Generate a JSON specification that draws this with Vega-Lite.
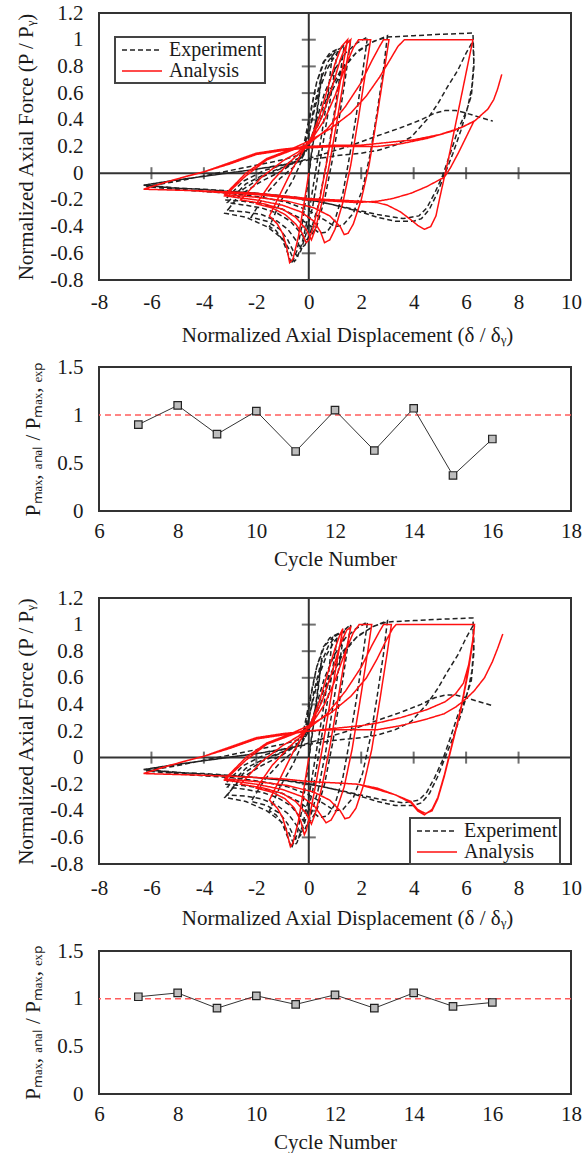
{
"$schema": "https://vega.github.io/schema/vega-lite/v6.json",
"padding": {"left": 14, "top": 1, "right": 0, "bottom": 0},
"config": {
  "font": "Liberation Serif",
  "view": {"stroke": "#333", "strokeWidth": 2},
  "axis": {"domain": false, "ticks": false, "grid": false, "labelFont": "Liberation Serif", "labelFontSize": 21, "labelColor": "#1a1a1a", "titleFont": "Liberation Serif", "titleFontSize": 21, "titleFontWeight": "normal", "titleColor": "#1a1a1a", "labelFlush": false, "labelOverlap": false},
  "legend": {"labelFont": "Liberation Serif", "labelFontSize": 20, "labelColor": "#1a1a1a", "symbolType": "M-2,0H2", "symbolSize": 400, "symbolStrokeWidth": 1.5, "symbolOffset": 14, "strokeColor": "#444", "strokeWidth": 2, "padding": 2, "rowPadding": 0, "labelOffset": 16, "fillColor": "white"}
},
"datasets": {
"exp": [
{"s":"Experiment","x":0,"y":0},{"s":"Experiment","x":0.2,"y":0.3},{"s":"Experiment","x":0.4,"y":0.6},{"s":"Experiment","x":0.5,"y":0.75},{"s":"Experiment","x":0.35,"y":0.5},{"s":"Experiment","x":0.15,"y":0.2},{"s":"Experiment","x":-0.05,"y":-0.1},{"s":"Experiment","x":-0.25,"y":-0.38},{"s":"Experiment","x":-0.45,"y":-0.58},{"s":"Experiment","x":-0.66,"y":-0.68},{"s":"Experiment","x":-0.8,"y":-0.6},{"s":"Experiment","x":-1.0,"y":-0.5},{"s":"Experiment","x":-1.25,"y":-0.43},{"s":"Experiment","x":-1.5,"y":-0.4},
{"s":"Experiment","x":-1.1,"y":-0.22},{"s":"Experiment","x":-0.6,"y":-0.05},{"s":"Experiment","x":-0.3,"y":0.08},{"s":"Experiment","x":-0.1,"y":0.25},{"s":"Experiment","x":0.1,"y":0.48},{"s":"Experiment","x":0.3,"y":0.68},{"s":"Experiment","x":0.55,"y":0.83},{"s":"Experiment","x":0.8,"y":0.9},{"s":"Experiment","x":1.1,"y":0.93},
{"s":"Experiment","x":0.9,"y":0.65},{"s":"Experiment","x":0.65,"y":0.35},{"s":"Experiment","x":0.4,"y":0.05},{"s":"Experiment","x":0.15,"y":-0.25},{"s":"Experiment","x":-0.1,"y":-0.45},{"s":"Experiment","x":-0.3,"y":-0.58},{"s":"Experiment","x":-0.45,"y":-0.62},
{"s":"Experiment","x":-0.6,"y":-0.58},{"s":"Experiment","x":-0.8,"y":-0.5},{"s":"Experiment","x":-1.1,"y":-0.42},{"s":"Experiment","x":-1.6,"y":-0.36},{"s":"Experiment","x":-2.2,"y":-0.33},
{"s":"Experiment","x":-1.7,"y":-0.17},{"s":"Experiment","x":-1.1,"y":-0.04},{"s":"Experiment","x":-0.5,"y":0.06},{"s":"Experiment","x":-0.2,"y":0.2},{"s":"Experiment","x":0.05,"y":0.45},{"s":"Experiment","x":0.3,"y":0.68},{"s":"Experiment","x":0.6,"y":0.84},{"s":"Experiment","x":0.9,"y":0.9},
{"s":"Experiment","x":0.75,"y":0.62},{"s":"Experiment","x":0.5,"y":0.3},{"s":"Experiment","x":0.25,"y":0.0},{"s":"Experiment","x":0.0,"y":-0.3},{"s":"Experiment","x":-0.25,"y":-0.52},{"s":"Experiment","x":-0.45,"y":-0.64},{"s":"Experiment","x":-0.55,"y":-0.66},
{"s":"Experiment","x":-0.75,"y":-0.57},{"s":"Experiment","x":-1.0,"y":-0.49},{"s":"Experiment","x":-1.6,"y":-0.4},{"s":"Experiment","x":-2.4,"y":-0.33},{"s":"Experiment","x":-3.2,"y":-0.3},
{"s":"Experiment","x":-2.6,"y":-0.16},{"s":"Experiment","x":-1.8,"y":-0.06},{"s":"Experiment","x":-1.0,"y":0.02},{"s":"Experiment","x":-0.4,"y":0.1},{"s":"Experiment","x":-0.2,"y":0.13},{"s":"Experiment","x":0.0,"y":0.28},{"s":"Experiment","x":0.2,"y":0.5},{"s":"Experiment","x":0.45,"y":0.7},{"s":"Experiment","x":0.75,"y":0.84},{"s":"Experiment","x":1.05,"y":0.92},{"s":"Experiment","x":1.35,"y":0.95},
{"s":"Experiment","x":1.15,"y":0.68},{"s":"Experiment","x":0.9,"y":0.36},{"s":"Experiment","x":0.65,"y":0.05},{"s":"Experiment","x":0.35,"y":-0.25},{"s":"Experiment","x":0.05,"y":-0.45},{"s":"Experiment","x":-0.15,"y":-0.54},{"s":"Experiment","x":-0.3,"y":-0.56},
{"s":"Experiment","x":-0.5,"y":-0.5},{"s":"Experiment","x":-0.8,"y":-0.42},{"s":"Experiment","x":-1.2,"y":-0.36},{"s":"Experiment","x":-1.8,"y":-0.31},{"s":"Experiment","x":-2.4,"y":-0.29},{"s":"Experiment","x":-3.1,"y":-0.28},
{"s":"Experiment","x":-2.5,"y":-0.12},{"s":"Experiment","x":-1.8,"y":-0.03},{"s":"Experiment","x":-1.0,"y":0.04},{"s":"Experiment","x":-0.4,"y":0.1},{"s":"Experiment","x":-0.1,"y":0.2},{"s":"Experiment","x":0.15,"y":0.42},{"s":"Experiment","x":0.4,"y":0.62},{"s":"Experiment","x":0.7,"y":0.78},{"s":"Experiment","x":1.0,"y":0.88},{"s":"Experiment","x":1.3,"y":0.95},{"s":"Experiment","x":1.6,"y":1.0},
{"s":"Experiment","x":1.4,"y":0.72},{"s":"Experiment","x":1.15,"y":0.4},{"s":"Experiment","x":0.9,"y":0.1},{"s":"Experiment","x":0.6,"y":-0.2},{"s":"Experiment","x":0.3,"y":-0.4},{"s":"Experiment","x":0.05,"y":-0.48},{"s":"Experiment","x":-0.1,"y":-0.5},
{"s":"Experiment","x":-0.35,"y":-0.44},{"s":"Experiment","x":-0.7,"y":-0.36},{"s":"Experiment","x":-1.2,"y":-0.3},{"s":"Experiment","x":-1.8,"y":-0.26},{"s":"Experiment","x":-2.4,"y":-0.24},{"s":"Experiment","x":-3.1,"y":-0.22},
{"s":"Experiment","x":-2.4,"y":-0.08},{"s":"Experiment","x":-1.6,"y":0.0},{"s":"Experiment","x":-0.9,"y":0.05},{"s":"Experiment","x":-0.3,"y":0.1},{"s":"Experiment","x":0.0,"y":0.2},{"s":"Experiment","x":0.3,"y":0.4},{"s":"Experiment","x":0.6,"y":0.6},{"s":"Experiment","x":1.0,"y":0.78},{"s":"Experiment","x":1.4,"y":0.9},{"s":"Experiment","x":1.8,"y":0.97},{"s":"Experiment","x":2.24,"y":1.02},
{"s":"Experiment","x":2.05,"y":0.75},{"s":"Experiment","x":1.8,"y":0.42},{"s":"Experiment","x":1.55,"y":0.12},{"s":"Experiment","x":1.3,"y":-0.15},{"s":"Experiment","x":1.0,"y":-0.35},{"s":"Experiment","x":0.7,"y":-0.44},{"s":"Experiment","x":0.4,"y":-0.45},
{"s":"Experiment","x":0.1,"y":-0.4},{"s":"Experiment","x":-0.4,"y":-0.33},{"s":"Experiment","x":-1.0,"y":-0.27},{"s":"Experiment","x":-1.8,"y":-0.23},{"s":"Experiment","x":-2.5,"y":-0.21},{"s":"Experiment","x":-3.2,"y":-0.2},
{"s":"Experiment","x":-2.5,"y":-0.06},{"s":"Experiment","x":-1.7,"y":0.02},{"s":"Experiment","x":-1.0,"y":0.06},{"s":"Experiment","x":-0.4,"y":0.11},{"s":"Experiment","x":0.0,"y":0.2},{"s":"Experiment","x":0.4,"y":0.38},{"s":"Experiment","x":0.8,"y":0.58},{"s":"Experiment","x":1.3,"y":0.78},{"s":"Experiment","x":1.8,"y":0.9},{"s":"Experiment","x":2.4,"y":0.98},{"s":"Experiment","x":3.0,"y":1.03},
{"s":"Experiment","x":2.85,"y":0.78},{"s":"Experiment","x":2.6,"y":0.45},{"s":"Experiment","x":2.35,"y":0.15},{"s":"Experiment","x":2.05,"y":-0.12},{"s":"Experiment","x":1.7,"y":-0.3},{"s":"Experiment","x":1.3,"y":-0.39},{"s":"Experiment","x":1.0,"y":-0.4},
{"s":"Experiment","x":0.6,"y":-0.35},{"s":"Experiment","x":0.0,"y":-0.28},{"s":"Experiment","x":-0.8,"y":-0.22},{"s":"Experiment","x":-1.8,"y":-0.18},{"s":"Experiment","x":-3.0,"y":-0.15},{"s":"Experiment","x":-4.5,"y":-0.13},{"s":"Experiment","x":-6.2,"y":-0.1},
{"s":"Experiment","x":-5.0,"y":-0.06},{"s":"Experiment","x":-4.0,"y":-0.02},{"s":"Experiment","x":-3.0,"y":0.02},{"s":"Experiment","x":-2.0,"y":0.06},{"s":"Experiment","x":-1.0,"y":0.1},{"s":"Experiment","x":-0.3,"y":0.14},{"s":"Experiment","x":0.0,"y":0.22},{"s":"Experiment","x":0.4,"y":0.42},{"s":"Experiment","x":0.8,"y":0.62},{"s":"Experiment","x":1.3,"y":0.8},{"s":"Experiment","x":1.9,"y":0.92},{"s":"Experiment","x":2.5,"y":0.99},{"s":"Experiment","x":3.0,"y":1.02},{"s":"Experiment","x":4.0,"y":1.03},{"s":"Experiment","x":5.0,"y":1.04},{"s":"Experiment","x":6.26,"y":1.05},
{"s":"Experiment","x":6.3,"y":0.85},{"s":"Experiment","x":6.22,"y":0.65},{"s":"Experiment","x":6.07,"y":0.5},{"s":"Experiment","x":5.8,"y":0.32},{"s":"Experiment","x":5.5,"y":0.15},{"s":"Experiment","x":5.2,"y":0.0},{"s":"Experiment","x":4.9,"y":-0.15},{"s":"Experiment","x":4.6,"y":-0.27},{"s":"Experiment","x":4.3,"y":-0.34},{"s":"Experiment","x":4.0,"y":-0.36},{"s":"Experiment","x":3.3,"y":-0.36},{"s":"Experiment","x":2.62,"y":-0.33},{"s":"Experiment","x":1.8,"y":-0.28},{"s":"Experiment","x":0.8,"y":-0.23},{"s":"Experiment","x":-0.5,"y":-0.18},{"s":"Experiment","x":-2.0,"y":-0.15},{"s":"Experiment","x":-3.5,"y":-0.13},{"s":"Experiment","x":-5.0,"y":-0.11},{"s":"Experiment","x":-6.3,"y":-0.09},
{"s":"Experiment","x":-5.0,"y":-0.05},{"s":"Experiment","x":-3.5,"y":-0.01},{"s":"Experiment","x":-2.0,"y":0.03},{"s":"Experiment","x":-1.0,"y":0.06},{"s":"Experiment","x":0.0,"y":0.1},{"s":"Experiment","x":1.0,"y":0.13},{"s":"Experiment","x":2.0,"y":0.15},{"s":"Experiment","x":2.62,"y":0.17},{"s":"Experiment","x":3.3,"y":0.21},{"s":"Experiment","x":3.9,"y":0.27},{"s":"Experiment","x":4.5,"y":0.4},{"s":"Experiment","x":4.92,"y":0.52},{"s":"Experiment","x":5.3,"y":0.65},{"s":"Experiment","x":5.68,"y":0.77},{"s":"Experiment","x":6.0,"y":0.9},{"s":"Experiment","x":6.26,"y":0.99},
{"s":"Experiment","x":6.3,"y":0.8},{"s":"Experiment","x":6.2,"y":0.58},{"s":"Experiment","x":6.0,"y":0.46},{"s":"Experiment","x":5.7,"y":0.33},{"s":"Experiment","x":5.4,"y":0.15},{"s":"Experiment","x":5.1,"y":-0.02},{"s":"Experiment","x":4.8,"y":-0.15},{"s":"Experiment","x":4.5,"y":-0.26},{"s":"Experiment","x":4.2,"y":-0.32},{"s":"Experiment","x":3.6,"y":-0.34},{"s":"Experiment","x":2.62,"y":-0.31},{"s":"Experiment","x":1.5,"y":-0.26},{"s":"Experiment","x":0.3,"y":-0.21},{"s":"Experiment","x":-1.0,"y":-0.17},{"s":"Experiment","x":-2.5,"y":-0.14},{"s":"Experiment","x":-4.0,"y":-0.12},{"s":"Experiment","x":-5.2,"y":-0.11},{"s":"Experiment","x":-6.3,"y":-0.09},
{"s":"Experiment","x":-5.0,"y":-0.05},{"s":"Experiment","x":-3.5,"y":-0.01},{"s":"Experiment","x":-2.0,"y":0.03},{"s":"Experiment","x":-0.5,"y":0.08},{"s":"Experiment","x":0.5,"y":0.14},{"s":"Experiment","x":1.5,"y":0.2},{"s":"Experiment","x":2.62,"y":0.28},{"s":"Experiment","x":3.5,"y":0.34},{"s":"Experiment","x":4.28,"y":0.4},{"s":"Experiment","x":4.8,"y":0.45},{"s":"Experiment","x":5.2,"y":0.47},{"s":"Experiment","x":5.6,"y":0.47},{"s":"Experiment","x":6.0,"y":0.45},{"s":"Experiment","x":6.5,"y":0.42},{"s":"Experiment","x":7.02,"y":0.39}
],
"ana1": [
{"s":"Analysis","x":0,"y":0},{"s":"Analysis","x":-0.2,"y":-0.25},{"s":"Analysis","x":-0.4,"y":-0.48},{"s":"Analysis","x":-0.6,"y":-0.64},{"s":"Analysis","x":-0.73,"y":-0.67},{"s":"Analysis","x":-0.85,"y":-0.55},{"s":"Analysis","x":-1.0,"y":-0.45},{"s":"Analysis","x":-1.2,"y":-0.38},{"s":"Analysis","x":-1.5,"y":-0.32},
{"s":"Analysis","x":-1.1,"y":-0.16},{"s":"Analysis","x":-0.6,"y":0.04},{"s":"Analysis","x":-0.2,"y":0.17},{"s":"Analysis","x":0.1,"y":0.27},{"s":"Analysis","x":0.4,"y":0.42},{"s":"Analysis","x":0.7,"y":0.62},{"s":"Analysis","x":1.0,"y":0.82},{"s":"Analysis","x":1.25,"y":0.95},{"s":"Analysis","x":1.48,"y":1.0},
{"s":"Analysis","x":1.3,"y":0.8},{"s":"Analysis","x":1.0,"y":0.45},{"s":"Analysis","x":0.7,"y":0.1},{"s":"Analysis","x":0.4,"y":-0.22},{"s":"Analysis","x":0.15,"y":-0.42},{"s":"Analysis","x":0.0,"y":-0.5},{"s":"Analysis","x":-0.1,"y":-0.52},
{"s":"Analysis","x":-0.25,"y":-0.45},{"s":"Analysis","x":-0.5,"y":-0.38},{"s":"Analysis","x":-0.9,"y":-0.31},{"s":"Analysis","x":-1.4,"y":-0.26},{"s":"Analysis","x":-2.0,"y":-0.23},
{"s":"Analysis","x":-1.4,"y":-0.06},{"s":"Analysis","x":-0.8,"y":0.07},{"s":"Analysis","x":-0.3,"y":0.16},{"s":"Analysis","x":0.1,"y":0.26},{"s":"Analysis","x":0.5,"y":0.42},{"s":"Analysis","x":0.9,"y":0.65},{"s":"Analysis","x":1.2,"y":0.85},{"s":"Analysis","x":1.45,"y":0.97},{"s":"Analysis","x":1.6,"y":1.0},
{"s":"Analysis","x":1.4,"y":0.78},{"s":"Analysis","x":1.1,"y":0.42},{"s":"Analysis","x":0.8,"y":0.08},{"s":"Analysis","x":0.5,"y":-0.22},{"s":"Analysis","x":0.25,"y":-0.42},{"s":"Analysis","x":0.1,"y":-0.5},
{"s":"Analysis","x":-0.1,"y":-0.42},{"s":"Analysis","x":-0.5,"y":-0.33},{"s":"Analysis","x":-1.0,"y":-0.27},{"s":"Analysis","x":-1.7,"y":-0.23},{"s":"Analysis","x":-2.6,"y":-0.2},
{"s":"Analysis","x":-1.8,"y":-0.03},{"s":"Analysis","x":-1.0,"y":0.09},{"s":"Analysis","x":-0.4,"y":0.16},{"s":"Analysis","x":0.1,"y":0.25},{"s":"Analysis","x":0.6,"y":0.4},{"s":"Analysis","x":1.0,"y":0.58},{"s":"Analysis","x":1.4,"y":0.8},{"s":"Analysis","x":1.7,"y":0.94},{"s":"Analysis","x":1.9,"y":1.0},{"s":"Analysis","x":2.36,"y":1.0},
{"s":"Analysis","x":2.2,"y":0.8},{"s":"Analysis","x":1.9,"y":0.42},{"s":"Analysis","x":1.6,"y":0.06},{"s":"Analysis","x":1.3,"y":-0.22},{"s":"Analysis","x":1.0,"y":-0.42},{"s":"Analysis","x":0.8,"y":-0.5},{"s":"Analysis","x":0.6,"y":-0.52},
{"s":"Analysis","x":0.45,"y":-0.44},{"s":"Analysis","x":0.2,"y":-0.36},{"s":"Analysis","x":-0.3,"y":-0.29},{"s":"Analysis","x":-1.0,"y":-0.24},{"s":"Analysis","x":-2.0,"y":-0.2},{"s":"Analysis","x":-3.2,"y":-0.17},
{"s":"Analysis","x":-2.4,"y":-0.02},{"s":"Analysis","x":-1.6,"y":0.1},{"s":"Analysis","x":-0.8,"y":0.16},{"s":"Analysis","x":0,"y":0.22},{"s":"Analysis","x":0.7,"y":0.33},{"s":"Analysis","x":1.4,"y":0.5},{"s":"Analysis","x":2.0,"y":0.68},{"s":"Analysis","x":2.4,"y":0.84},{"s":"Analysis","x":2.7,"y":0.95},{"s":"Analysis","x":2.85,"y":1.0},{"s":"Analysis","x":3.06,"y":1.0},
{"s":"Analysis","x":2.9,"y":0.8},{"s":"Analysis","x":2.6,"y":0.42},{"s":"Analysis","x":2.3,"y":0.06},{"s":"Analysis","x":2.0,"y":-0.2},{"s":"Analysis","x":1.7,"y":-0.38},{"s":"Analysis","x":1.5,"y":-0.45},{"s":"Analysis","x":1.35,"y":-0.46},
{"s":"Analysis","x":1.2,"y":-0.4},{"s":"Analysis","x":0.8,"y":-0.32},{"s":"Analysis","x":0.2,"y":-0.26},{"s":"Analysis","x":-0.8,"y":-0.21},{"s":"Analysis","x":-2.0,"y":-0.18},{"s":"Analysis","x":-3.2,"y":-0.16},
{"s":"Analysis","x":-2.4,"y":0.0},{"s":"Analysis","x":-1.6,"y":0.11},{"s":"Analysis","x":-0.8,"y":0.17},{"s":"Analysis","x":0,"y":0.24},{"s":"Analysis","x":0.8,"y":0.33},{"s":"Analysis","x":1.6,"y":0.45},{"s":"Analysis","x":2.2,"y":0.58},{"s":"Analysis","x":2.7,"y":0.72},{"s":"Analysis","x":3.1,"y":0.85},{"s":"Analysis","x":3.4,"y":0.95},{"s":"Analysis","x":3.65,"y":1.0},{"s":"Analysis","x":6.26,"y":1.0},
{"s":"Analysis","x":6.05,"y":0.8},{"s":"Analysis","x":5.8,"y":0.56},{"s":"Analysis","x":5.55,"y":0.32},{"s":"Analysis","x":5.35,"y":0.13},{"s":"Analysis","x":5.17,"y":-0.03},{"s":"Analysis","x":5.0,"y":-0.18},{"s":"Analysis","x":4.85,"y":-0.32},{"s":"Analysis","x":4.65,"y":-0.4},{"s":"Analysis","x":4.41,"y":-0.42},
{"s":"Analysis","x":4.15,"y":-0.39},{"s":"Analysis","x":3.9,"y":-0.35},{"s":"Analysis","x":3.5,"y":-0.29},{"s":"Analysis","x":3.0,"y":-0.24},{"s":"Analysis","x":2.6,"y":-0.22},{"s":"Analysis","x":2.0,"y":-0.21},{"s":"Analysis","x":1.0,"y":-0.2},{"s":"Analysis","x":0,"y":-0.19},{"s":"Analysis","x":-1.0,"y":-0.17},{"s":"Analysis","x":-2.0,"y":-0.15},{"s":"Analysis","x":-3.0,"y":-0.14},{"s":"Analysis","x":-4.5,"y":-0.13},{"s":"Analysis","x":-6.3,"y":-0.12},
{"s":"Analysis","x":-5.5,"y":-0.07},{"s":"Analysis","x":-4.6,"y":-0.02},{"s":"Analysis","x":-4.0,"y":0.01},{"s":"Analysis","x":-3.0,"y":0.07},{"s":"Analysis","x":-2.0,"y":0.14},{"s":"Analysis","x":-1.0,"y":0.17},{"s":"Analysis","x":0,"y":0.19},{"s":"Analysis","x":1.0,"y":0.2},{"s":"Analysis","x":2.0,"y":0.2},{"s":"Analysis","x":2.62,"y":0.2},{"s":"Analysis","x":3.5,"y":0.22},{"s":"Analysis","x":4.5,"y":0.26},{"s":"Analysis","x":5.55,"y":0.32},{"s":"Analysis","x":6.0,"y":0.36},{"s":"Analysis","x":6.3,"y":0.39},
{"s":"Analysis","x":6.0,"y":0.27},{"s":"Analysis","x":5.7,"y":0.15},{"s":"Analysis","x":5.4,"y":0.04},{"s":"Analysis","x":5.17,"y":-0.03},{"s":"Analysis","x":4.5,"y":-0.1},{"s":"Analysis","x":3.9,"y":-0.15},{"s":"Analysis","x":3.2,"y":-0.19},{"s":"Analysis","x":2.62,"y":-0.21},{"s":"Analysis","x":1.8,"y":-0.22},{"s":"Analysis","x":1.0,"y":-0.21},{"s":"Analysis","x":0,"y":-0.2},{"s":"Analysis","x":-1.0,"y":-0.18},{"s":"Analysis","x":-2.0,"y":-0.16},{"s":"Analysis","x":-3.0,"y":-0.15},{"s":"Analysis","x":-4.5,"y":-0.13},{"s":"Analysis","x":-6.3,"y":-0.12},
{"s":"Analysis","x":-5.5,"y":-0.07},{"s":"Analysis","x":-4.6,"y":-0.02},{"s":"Analysis","x":-4.0,"y":0.01},{"s":"Analysis","x":-3.0,"y":0.08},{"s":"Analysis","x":-2.0,"y":0.15},{"s":"Analysis","x":-1.0,"y":0.18},{"s":"Analysis","x":0,"y":0.2},{"s":"Analysis","x":1.0,"y":0.21},{"s":"Analysis","x":2.0,"y":0.21},{"s":"Analysis","x":3.0,"y":0.23},{"s":"Analysis","x":4.0,"y":0.25},{"s":"Analysis","x":5.0,"y":0.29},{"s":"Analysis","x":5.8,"y":0.34},{"s":"Analysis","x":6.32,"y":0.39},{"s":"Analysis","x":6.6,"y":0.44},{"s":"Analysis","x":6.83,"y":0.48},{"s":"Analysis","x":7.05,"y":0.55},{"s":"Analysis","x":7.2,"y":0.63},{"s":"Analysis","x":7.36,"y":0.74}
],
"ana3": [
{"s":"Analysis","x":0,"y":0},{"s":"Analysis","x":-0.2,"y":-0.25},{"s":"Analysis","x":-0.4,"y":-0.48},{"s":"Analysis","x":-0.6,"y":-0.64},{"s":"Analysis","x":-0.7,"y":-0.67},{"s":"Analysis","x":-0.85,"y":-0.55},{"s":"Analysis","x":-1.0,"y":-0.45},{"s":"Analysis","x":-1.2,"y":-0.38},{"s":"Analysis","x":-1.5,"y":-0.32},
{"s":"Analysis","x":-1.1,"y":-0.16},{"s":"Analysis","x":-0.6,"y":0.04},{"s":"Analysis","x":-0.2,"y":0.17},{"s":"Analysis","x":0.1,"y":0.27},{"s":"Analysis","x":0.4,"y":0.42},{"s":"Analysis","x":0.7,"y":0.62},{"s":"Analysis","x":1.0,"y":0.82},{"s":"Analysis","x":1.2,"y":0.93},{"s":"Analysis","x":1.3,"y":0.97},
{"s":"Analysis","x":1.1,"y":0.75},{"s":"Analysis","x":0.8,"y":0.4},{"s":"Analysis","x":0.5,"y":0.05},{"s":"Analysis","x":0.2,"y":-0.27},{"s":"Analysis","x":0.0,"y":-0.47},{"s":"Analysis","x":-0.1,"y":-0.55},{"s":"Analysis","x":-0.17,"y":-0.58},
{"s":"Analysis","x":-0.3,"y":-0.48},{"s":"Analysis","x":-0.55,"y":-0.38},{"s":"Analysis","x":-0.9,"y":-0.31},{"s":"Analysis","x":-1.4,"y":-0.26},{"s":"Analysis","x":-2.0,"y":-0.23},
{"s":"Analysis","x":-1.4,"y":-0.06},{"s":"Analysis","x":-0.8,"y":0.07},{"s":"Analysis","x":-0.3,"y":0.16},{"s":"Analysis","x":0.1,"y":0.26},{"s":"Analysis","x":0.5,"y":0.42},{"s":"Analysis","x":0.9,"y":0.65},{"s":"Analysis","x":1.2,"y":0.85},{"s":"Analysis","x":1.45,"y":0.96},{"s":"Analysis","x":1.6,"y":0.98},
{"s":"Analysis","x":1.4,"y":0.78},{"s":"Analysis","x":1.1,"y":0.42},{"s":"Analysis","x":0.8,"y":0.08},{"s":"Analysis","x":0.5,"y":-0.22},{"s":"Analysis","x":0.25,"y":-0.42},{"s":"Analysis","x":0.1,"y":-0.5},
{"s":"Analysis","x":-0.1,"y":-0.42},{"s":"Analysis","x":-0.5,"y":-0.33},{"s":"Analysis","x":-1.0,"y":-0.27},{"s":"Analysis","x":-1.7,"y":-0.23},{"s":"Analysis","x":-2.6,"y":-0.2},
{"s":"Analysis","x":-1.8,"y":-0.03},{"s":"Analysis","x":-1.0,"y":0.09},{"s":"Analysis","x":-0.4,"y":0.16},{"s":"Analysis","x":0.1,"y":0.25},{"s":"Analysis","x":0.6,"y":0.4},{"s":"Analysis","x":1.0,"y":0.58},{"s":"Analysis","x":1.4,"y":0.8},{"s":"Analysis","x":1.7,"y":0.94},{"s":"Analysis","x":1.92,"y":1.0},{"s":"Analysis","x":2.4,"y":1.0},
{"s":"Analysis","x":2.25,"y":0.8},{"s":"Analysis","x":1.95,"y":0.42},{"s":"Analysis","x":1.65,"y":0.06},{"s":"Analysis","x":1.35,"y":-0.22},{"s":"Analysis","x":1.05,"y":-0.4},{"s":"Analysis","x":0.85,"y":-0.47},{"s":"Analysis","x":0.66,"y":-0.49},
{"s":"Analysis","x":0.45,"y":-0.43},{"s":"Analysis","x":0.2,"y":-0.36},{"s":"Analysis","x":-0.3,"y":-0.29},{"s":"Analysis","x":-1.0,"y":-0.24},{"s":"Analysis","x":-2.0,"y":-0.2},{"s":"Analysis","x":-3.2,"y":-0.17},
{"s":"Analysis","x":-2.4,"y":-0.02},{"s":"Analysis","x":-1.6,"y":0.1},{"s":"Analysis","x":-0.8,"y":0.16},{"s":"Analysis","x":0,"y":0.22},{"s":"Analysis","x":0.7,"y":0.33},{"s":"Analysis","x":1.4,"y":0.5},{"s":"Analysis","x":2.0,"y":0.68},{"s":"Analysis","x":2.4,"y":0.84},{"s":"Analysis","x":2.7,"y":0.95},{"s":"Analysis","x":2.85,"y":1.0},{"s":"Analysis","x":3.15,"y":1.0},
{"s":"Analysis","x":3.0,"y":0.8},{"s":"Analysis","x":2.7,"y":0.42},{"s":"Analysis","x":2.4,"y":0.06},{"s":"Analysis","x":2.1,"y":-0.2},{"s":"Analysis","x":1.8,"y":-0.38},{"s":"Analysis","x":1.55,"y":-0.45},{"s":"Analysis","x":1.38,"y":-0.46},
{"s":"Analysis","x":1.2,"y":-0.4},{"s":"Analysis","x":0.8,"y":-0.32},{"s":"Analysis","x":0.2,"y":-0.26},{"s":"Analysis","x":-0.8,"y":-0.21},{"s":"Analysis","x":-2.0,"y":-0.18},{"s":"Analysis","x":-3.2,"y":-0.16},
{"s":"Analysis","x":-2.4,"y":0.0},{"s":"Analysis","x":-1.6,"y":0.11},{"s":"Analysis","x":-0.8,"y":0.17},{"s":"Analysis","x":0,"y":0.24},{"s":"Analysis","x":0.8,"y":0.33},{"s":"Analysis","x":1.6,"y":0.46},{"s":"Analysis","x":2.2,"y":0.6},{"s":"Analysis","x":2.6,"y":0.74},{"s":"Analysis","x":2.95,"y":0.88},{"s":"Analysis","x":3.2,"y":0.97},{"s":"Analysis","x":3.33,"y":1.0},{"s":"Analysis","x":6.32,"y":1.0},
{"s":"Analysis","x":6.25,"y":0.88},{"s":"Analysis","x":6.06,"y":0.64},{"s":"Analysis","x":5.8,"y":0.37},{"s":"Analysis","x":5.55,"y":0.17},{"s":"Analysis","x":5.36,"y":0.02},{"s":"Analysis","x":5.17,"y":-0.13},{"s":"Analysis","x":4.92,"y":-0.3},{"s":"Analysis","x":4.7,"y":-0.39},{"s":"Analysis","x":4.41,"y":-0.43},
{"s":"Analysis","x":4.15,"y":-0.4},{"s":"Analysis","x":3.9,"y":-0.34},{"s":"Analysis","x":3.3,"y":-0.28},{"s":"Analysis","x":2.62,"y":-0.24},{"s":"Analysis","x":1.86,"y":-0.2},{"s":"Analysis","x":1.0,"y":-0.19},{"s":"Analysis","x":0,"y":-0.18},{"s":"Analysis","x":-1.0,"y":-0.16},{"s":"Analysis","x":-2.0,"y":-0.15},{"s":"Analysis","x":-3.0,"y":-0.14},{"s":"Analysis","x":-4.5,"y":-0.13},{"s":"Analysis","x":-6.3,"y":-0.12},
{"s":"Analysis","x":-5.5,"y":-0.07},{"s":"Analysis","x":-4.6,"y":-0.02},{"s":"Analysis","x":-4.0,"y":0.01},{"s":"Analysis","x":-3.0,"y":0.07},{"s":"Analysis","x":-2.0,"y":0.14},{"s":"Analysis","x":-1.0,"y":0.17},{"s":"Analysis","x":0,"y":0.2},{"s":"Analysis","x":1.0,"y":0.22},{"s":"Analysis","x":2.0,"y":0.24},{"s":"Analysis","x":2.62,"y":0.26},{"s":"Analysis","x":3.5,"y":0.3},{"s":"Analysis","x":4.5,"y":0.36},{"s":"Analysis","x":5.2,"y":0.42},{"s":"Analysis","x":5.6,"y":0.48},{"s":"Analysis","x":5.9,"y":0.56},{"s":"Analysis","x":6.1,"y":0.7},{"s":"Analysis","x":6.25,"y":0.88},{"s":"Analysis","x":6.32,"y":0.99},
{"s":"Analysis","x":6.25,"y":0.86},{"s":"Analysis","x":6.06,"y":0.62},{"s":"Analysis","x":5.8,"y":0.36},{"s":"Analysis","x":5.55,"y":0.16},{"s":"Analysis","x":5.36,"y":0.01},{"s":"Analysis","x":5.17,"y":-0.14},{"s":"Analysis","x":4.92,"y":-0.31},{"s":"Analysis","x":4.7,"y":-0.4},{"s":"Analysis","x":4.45,"y":-0.42},
{"s":"Analysis","x":4.15,"y":-0.39},{"s":"Analysis","x":3.9,"y":-0.33},{"s":"Analysis","x":3.3,"y":-0.28},{"s":"Analysis","x":2.62,"y":-0.23},{"s":"Analysis","x":1.86,"y":-0.2},{"s":"Analysis","x":1.0,"y":-0.19},{"s":"Analysis","x":0,"y":-0.18},{"s":"Analysis","x":-1.0,"y":-0.16},{"s":"Analysis","x":-2.0,"y":-0.15},{"s":"Analysis","x":-3.0,"y":-0.14},{"s":"Analysis","x":-4.5,"y":-0.13},{"s":"Analysis","x":-6.3,"y":-0.12},
{"s":"Analysis","x":-5.5,"y":-0.07},{"s":"Analysis","x":-4.6,"y":-0.02},{"s":"Analysis","x":-4.0,"y":0.01},{"s":"Analysis","x":-3.0,"y":0.08},{"s":"Analysis","x":-2.0,"y":0.15},{"s":"Analysis","x":-1.0,"y":0.18},{"s":"Analysis","x":0,"y":0.2},{"s":"Analysis","x":1.0,"y":0.21},{"s":"Analysis","x":2.0,"y":0.21},{"s":"Analysis","x":2.62,"y":0.21},{"s":"Analysis","x":3.5,"y":0.24},{"s":"Analysis","x":4.5,"y":0.29},{"s":"Analysis","x":5.17,"y":0.33},{"s":"Analysis","x":5.6,"y":0.38},{"s":"Analysis","x":5.93,"y":0.43},{"s":"Analysis","x":6.3,"y":0.5},{"s":"Analysis","x":6.7,"y":0.6},{"s":"Analysis","x":7.0,"y":0.72},{"s":"Analysis","x":7.2,"y":0.82},{"s":"Analysis","x":7.4,"y":0.93}
],
"r1": [
{"cycle":7,"ratio":0.9},{"cycle":8,"ratio":1.1},{"cycle":9,"ratio":0.8},{"cycle":10,"ratio":1.04},{"cycle":11,"ratio":0.62},{"cycle":12,"ratio":1.05},{"cycle":13,"ratio":0.63},{"cycle":14,"ratio":1.07},{"cycle":15,"ratio":0.37},{"cycle":16,"ratio":0.75}
],
"r2": [
{"cycle":7,"ratio":1.02},{"cycle":8,"ratio":1.06},{"cycle":9,"ratio":0.9},{"cycle":10,"ratio":1.03},{"cycle":11,"ratio":0.94},{"cycle":12,"ratio":1.04},{"cycle":13,"ratio":0.9},{"cycle":14,"ratio":1.06},{"cycle":15,"ratio":0.92},{"cycle":16,"ratio":0.96}
],
"xt": [{"x":-6},{"x":-4},{"x":-2},{"x":2},{"x":4},{"x":6},{"x":8}],
"yt": [{"y":-0.6},{"y":-0.4},{"y":-0.2},{"y":0.2},{"y":0.4},{"y":0.6},{"y":0.8},{"y":1}]
},
"bounds": "flush",
"spacing": 87,
"resolve": {"scale": {"color": "independent", "strokeDash": "independent"}},
"vconcat": [
{
"width": 472, "height": 267,
"layer": [
{"data": {"values": [{}]}, "mark": {"type": "rule", "color": "#333", "strokeWidth": 2}, "encoding": {"x": {"datum": 0}}},
{"data": {"values": [{}]}, "mark": {"type": "rule", "color": "#333", "strokeWidth": 2}, "encoding": {"y": {"datum": 0}}},
{"data": {"name": "xt"}, "mark": {"type": "tick", "orient": "vertical", "size": 12, "thickness": 2, "color": "#333"}, "encoding": {"x": {"field": "x", "type": "quantitative"}, "y": {"datum": 0}}},
{"data": {"name": "yt"}, "mark": {"type": "tick", "orient": "horizontal", "size": 14, "thickness": 2, "color": "#333"}, "encoding": {"x": {"datum": 0}, "y": {"field": "y", "type": "quantitative"}}},
{"data": {"name": "exp"}, "mark": {"type": "line", "strokeWidth": 1.5},
 "encoding": {
  "x": {"field": "x", "type": "quantitative", "scale": {"domain": [-8, 10], "nice": false, "zero": false}, "axis": {"values": [-8,-6,-4,-2,0,2,4,6,8,10], "tickCount": 20, "labelExpr": "'' + datum.value", "labelOverlap": false, "labelPadding": 11, "title": "Normalized Axial Displacement (δ / δᵧ)", "titlePadding": 12, "titleX": 248}},
  "y": {"field": "y", "type": "quantitative", "scale": {"domain": [-0.8, 1.2], "nice": false, "zero": false}, "axis": {"values": [-0.8,-0.6,-0.4,-0.2,0,0.2,0.4,0.6,0.8,1,1.2], "tickCount": 20, "labelExpr": "'' + datum.value", "labelOverlap": false, "labelPadding": 16, "title": "Normalized Axial Force (P / Pᵧ)", "titlePadding": 13}},
  "color": {"field": "s", "type": "nominal", "scale": {"domain": ["Experiment", "Analysis"], "range": ["#222222", "#ff1010"]}, "legend": {"title": null, "orient": "none", "legendX": 16, "legendY": 24}},
  "strokeDash": {"field": "s", "type": "nominal", "scale": {"domain": ["Experiment", "Analysis"], "range": [[5, 3], [1, 0]]}, "legend": {"title": null, "orient": "none", "legendX": 16, "legendY": 24}},
  "order": {"value": null}
 }},
{"data": {"name": "ana1"}, "mark": {"type": "line", "strokeWidth": 1.5},
 "encoding": {
  "x": {"field": "x", "type": "quantitative"},
  "y": {"field": "y", "type": "quantitative"},
  "color": {"field": "s", "type": "nominal"},
  "strokeDash": {"field": "s", "type": "nominal"},
  "order": {"value": null}
 }}
]
},
{
"width": 472, "height": 144,
"layer": [
{"data": {"values": [{}]}, "mark": {"type": "rule", "color": "#ff5c5c", "strokeDash": [6, 4], "strokeWidth": 1.5}, "encoding": {"y": {"datum": 1}}},
{"data": {"name": "r1"}, "mark": {"type": "line", "color": "#333", "strokeWidth": 1},
 "encoding": {
  "x": {"field": "cycle", "type": "quantitative", "scale": {"domain": [6, 18], "nice": false, "zero": false}, "axis": {"values": [6,8,10,12,14,16,18], "tickCount": 20, "labelExpr": "'' + datum.value", "labelOverlap": false, "labelPadding": 9, "title": "Cycle Number", "titlePadding": 7}},
  "y": {"field": "ratio", "type": "quantitative", "scale": {"domain": [0, 1.5], "nice": false}, "axis": {"values": [0, 0.5, 1, 1.5], "tickCount": 20, "labelExpr": "'' + datum.value", "labelOverlap": false, "labelPadding": 16, "title": "Pₘₐₓ, ₐₙₐₗ / Pₘₐₓ, ₑₓₚ", "titlePadding": 13}}
 }},
{"data": {"name": "r1"}, "mark": {"type": "square", "size": 56, "fill": "#bdbdbd", "stroke": "#222", "strokeWidth": 1.2, "opacity": 1},
 "encoding": {"x": {"field": "cycle", "type": "quantitative"}, "y": {"field": "ratio", "type": "quantitative"}}}
]
},
{
"width": 472, "height": 266,
"layer": [
{"data": {"values": [{}]}, "mark": {"type": "rule", "color": "#333", "strokeWidth": 2}, "encoding": {"x": {"datum": 0}}},
{"data": {"values": [{}]}, "mark": {"type": "rule", "color": "#333", "strokeWidth": 2}, "encoding": {"y": {"datum": 0}}},
{"data": {"name": "xt"}, "mark": {"type": "tick", "orient": "vertical", "size": 12, "thickness": 2, "color": "#333"}, "encoding": {"x": {"field": "x", "type": "quantitative"}, "y": {"datum": 0}}},
{"data": {"name": "yt"}, "mark": {"type": "tick", "orient": "horizontal", "size": 14, "thickness": 2, "color": "#333"}, "encoding": {"x": {"datum": 0}, "y": {"field": "y", "type": "quantitative"}}},
{"data": {"name": "exp"}, "mark": {"type": "line", "strokeWidth": 1.5},
 "encoding": {
  "x": {"field": "x", "type": "quantitative", "scale": {"domain": [-8, 10], "nice": false, "zero": false}, "axis": {"values": [-8,-6,-4,-2,0,2,4,6,8,10], "tickCount": 20, "labelExpr": "'' + datum.value", "labelOverlap": false, "labelPadding": 13, "title": "Normalized Axial Displacement (δ / δᵧ)", "titlePadding": 9, "titleX": 248}},
  "y": {"field": "y", "type": "quantitative", "scale": {"domain": [-0.8, 1.2], "nice": false, "zero": false}, "axis": {"values": [-0.8,-0.6,-0.4,-0.2,0,0.2,0.4,0.6,0.8,1,1.2], "tickCount": 20, "labelExpr": "'' + datum.value", "labelOverlap": false, "labelPadding": 16, "title": "Normalized Axial Force (P / Pᵧ)", "titlePadding": 13}},
  "color": {"field": "s", "type": "nominal", "scale": {"domain": ["Experiment", "Analysis"], "range": ["#222222", "#ff1010"]}, "legend": {"title": null, "orient": "none", "legendX": 311, "legendY": 220}},
  "strokeDash": {"field": "s", "type": "nominal", "scale": {"domain": ["Experiment", "Analysis"], "range": [[5, 3], [1, 0]]}, "legend": {"title": null, "orient": "none", "legendX": 311, "legendY": 220}},
  "order": {"value": null}
 }},
{"data": {"name": "ana3"}, "mark": {"type": "line", "strokeWidth": 1.5},
 "encoding": {
  "x": {"field": "x", "type": "quantitative"},
  "y": {"field": "y", "type": "quantitative"},
  "color": {"field": "s", "type": "nominal"},
  "strokeDash": {"field": "s", "type": "nominal"},
  "order": {"value": null}
 }}
]
},
{
"width": 472, "height": 143,
"layer": [
{"data": {"values": [{}]}, "mark": {"type": "rule", "color": "#ff5c5c", "strokeDash": [6, 4], "strokeWidth": 1.5}, "encoding": {"y": {"datum": 1}}},
{"data": {"name": "r2"}, "mark": {"type": "line", "color": "#333", "strokeWidth": 1},
 "encoding": {
  "x": {"field": "cycle", "type": "quantitative", "scale": {"domain": [6, 18], "nice": false, "zero": false}, "axis": {"values": [6,8,10,12,14,16,18], "tickCount": 20, "labelExpr": "'' + datum.value", "labelOverlap": false, "labelPadding": 9, "title": "Cycle Number", "titlePadding": 7}},
  "y": {"field": "ratio", "type": "quantitative", "scale": {"domain": [0, 1.5], "nice": false}, "axis": {"values": [0, 0.5, 1, 1.5], "tickCount": 20, "labelExpr": "'' + datum.value", "labelOverlap": false, "labelPadding": 16, "title": "Pₘₐₓ, ₐₙₐₗ / Pₘₐₓ, ₑₓₚ", "titlePadding": 13}}
 }},
{"data": {"name": "r2"}, "mark": {"type": "square", "size": 56, "fill": "#bdbdbd", "stroke": "#222", "strokeWidth": 1.2, "opacity": 1},
 "encoding": {"x": {"field": "cycle", "type": "quantitative"}, "y": {"field": "ratio", "type": "quantitative"}}}
]
}
]
}
